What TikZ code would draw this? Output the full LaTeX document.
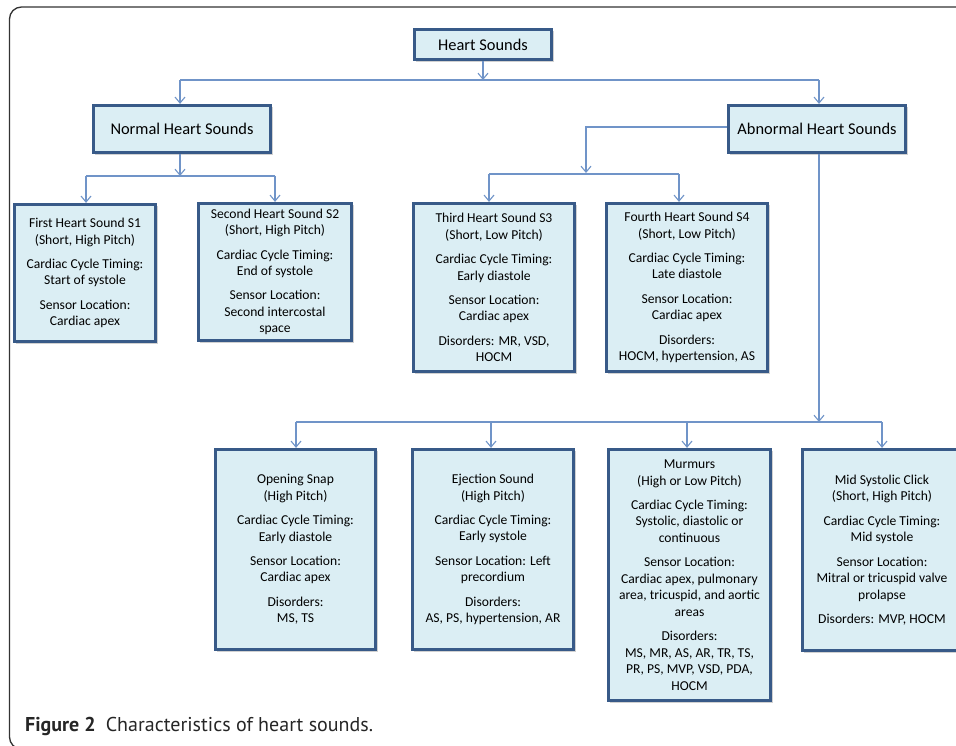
\documentclass[tikz,border=0pt]{standalone}
\usepackage{fontspec}
\setmainfont{Carlito}
\newfontfamily\capfont{PT Sans}
\usetikzlibrary{arrows.meta,shadows}
\definecolor{boxfill}{HTML}{DBEEF4}
\definecolor{boxborder}{HTML}{385A88}
\definecolor{connc}{HTML}{7094C8}
\tikzset{
  card/.style={draw=boxborder, line width=2.7pt, fill=boxfill, align=center, inner sep=0pt,
    font=\fontsize{13.6}{16.5}\selectfont,
    drop shadow={shadow xshift=2pt, shadow yshift=-2pt, fill=black, opacity=0.18}},
  topcard/.style={card, font=\fontsize{16.4}{19}\selectfont},
  conn/.style={draw=connc, line width=1.2pt},
  tip/.tip={Straight Barb[length=6pt,width=10pt,line width=1.1pt]},
}
\newcommand{\pg}{\\[7.8pt]}
\begin{document}
\begin{tikzpicture}[x=1pt,y=-1pt]
\useasboundingbox (0,0) rectangle (956,746);
\fill[white] (0,0) rectangle (956,746);
\draw[line width=1.3pt, black!80, rounded corners=12pt] (9.5,749) rectangle (1010,7);

% nodes
\node[topcard, minimum width=137.5pt, minimum height=30.5pt] (hs) at (483,44.5) {Heart Sounds};
\node[topcard, minimum width=177.5pt, minimum height=47.5pt] (normal) at (182,129) {Normal Heart Sounds};
\node[topcard, minimum width=177.5pt, minimum height=47.5pt] (abnormal) at (817,129) {Abnormal Heart Sounds};

\node[card, minimum width=141.5pt, minimum height=137.5pt] (s1) at (85,273)
 {First Heart Sound S1\\(Short, High Pitch)\pg Cardiac Cycle Timing:\\Start of systole\pg Sensor Location:\\Cardiac apex};
\node[card, minimum width=153.5pt, minimum height=137.5pt] (s2) at (275,272)
 {Second Heart Sound S2\\(Short, High Pitch)\pg Cardiac Cycle Timing:\\End of systole\pg Sensor Location:\\Second intercostal\\space};
\node[card, minimum width=161.5pt, minimum height=168.5pt] (s3) at (494,287.5)
 {Third Heart Sound S3\\(Short, Low Pitch)\pg Cardiac Cycle Timing:\\Early diastole\pg Sensor Location:\\Cardiac apex\pg Disorders: MR, VSD,\\HOCM};
\node[card, minimum width=161.5pt, minimum height=168.5pt] (s4) at (687,287.5)
 {Fourth Heart Sound S4\\(Short, Low Pitch)\pg Cardiac Cycle Timing:\\Late diastole\pg Sensor Location:\\Cardiac apex\pg Disorders:\\HOCM, hypertension, AS};

\node[card, minimum width=160.5pt, minimum height=200.5pt] (os) at (295.5,549.5)
 {Opening Snap\\(High Pitch)\pg Cardiac Cycle Timing:\\Early diastole\pg Sensor Location:\\Cardiac apex\pg Disorders:\\MS, TS};
\node[card, minimum width=161.5pt, minimum height=200.5pt] (ej) at (493,549.5)
 {Ejection Sound\\(High Pitch)\pg Cardiac Cycle Timing:\\Early systole\pg Sensor Location: Left\\precordium\pg Disorders:\\AS, PS, hypertension, AR};
\node[card, minimum width=162.5pt, minimum height=251.5pt] (mu) at (689.5,575)
 {Murmurs\\(High or Low Pitch)\pg Cardiac Cycle Timing:\\Systolic, diastolic or\\continuous\pg Sensor Location:\\Cardiac apex, pulmonary\\area, tricuspid, and aortic\\areas\pg Disorders:\\MS, MR, AS, AR, TR, TS,\\PR, PS, MVP, VSD, PDA,\\HOCM};
\node[card, minimum width=159.5pt, minimum height=201.5pt] (msc) at (882,550)
 {Mid Systolic Click\\(Short, High Pitch)\pg Cardiac Cycle Timing:\\Mid systole\pg Sensor Location:\\Mitral or tricuspid valve\\prolapse\pg Disorders: MVP, HOCM};

% bus coordinates
\coordinate (b1l) at (180,80);
\coordinate (b1r) at (819,80);
\coordinate (b2l) at (86,176);
\coordinate (b2r) at (275,176);
\coordinate (b3c) at (586,127);
\coordinate (b3l) at (489,174);
\coordinate (b3r) at (679,174);
\coordinate (b4l) at (296,422);
\coordinate (b4m1) at (491,422);
\coordinate (b4m2) at (687,422);
\coordinate (b4r) at (882,422);

% connectors
\draw[conn] (b1l) -- (b1r);
\draw[conn,-tip] (hs.south) -- (hs.south |- b1l);
\draw[conn,-tip] (b1l) -- (b1l |- normal.north);
\draw[conn,-tip] (b1r) -- (b1r |- abnormal.north);

\draw[conn] (b2l) -- (b2r);
\draw[conn,-tip] (normal.south -| b1l) -- (b1l |- b2l);
\draw[conn,-tip] (b2l) -- (b2l |- s1.north);
\draw[conn,-tip] (b2r) -- (b2r |- s2.north);

\draw[conn] (b3l) -- (b3r);
\draw[conn,-tip] (abnormal.west |- b3c) -- (b3c) -- (b3c |- 0,173);
\draw[conn,-tip] (b3l) -- (b3l |- s3.north);
\draw[conn,-tip] (b3r) -- (b3r |- s4.north);

\draw[conn] (b4l) -- (b4r);
\draw[conn,-tip] (abnormal.south -| b1r) -- (b1r |- b4l);
\draw[conn,-tip] (b4l) -- (b4l |- os.north);
\draw[conn,-tip] (b4m1) -- (b4m1 |- ej.north);
\draw[conn,-tip] (b4m2) -- (b4m2 |- mu.north);
\draw[conn,-tip] (b4r) -- (b4r |- msc.north);

% caption
\node[anchor=base west, inner sep=0pt, font=\capfont\fontsize{20}{22}\selectfont, text=black!85] (cap) at (25,731.5)
 {\textbf{Figure 2}\hspace{10pt}Characteristics of heart sounds.};
\end{tikzpicture}
\end{document}
